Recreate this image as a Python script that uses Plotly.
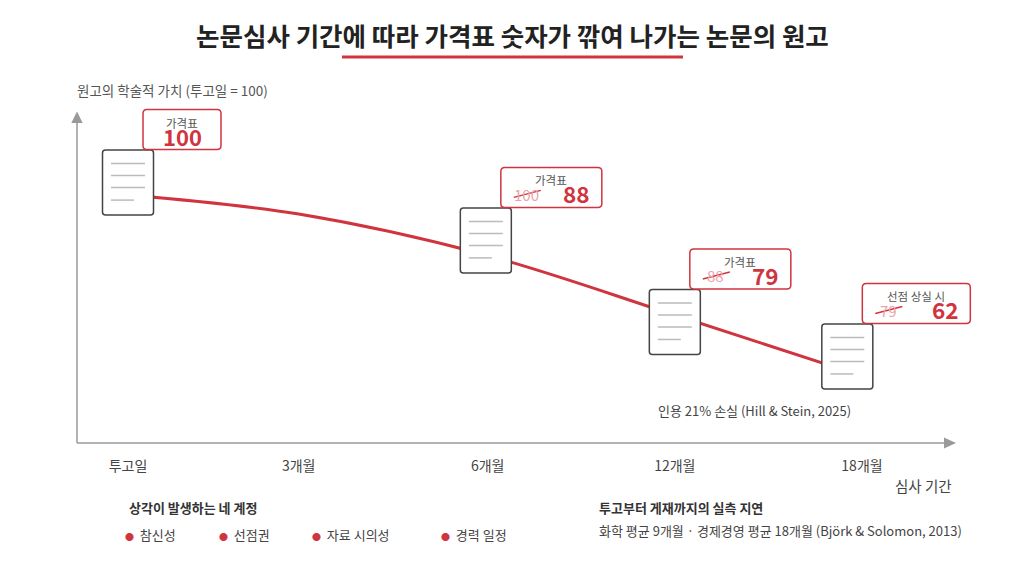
import plotly.graph_objects as go

# x 축 눈금 (심사 기간)
tick_labels = ['투고일', '3개월', '6개월', '12개월', '18개월']
tick_pos = [0, 0.93, 1.96, 2.98, 4]

# 원고의 학술적 가치 곡선 (투고일 = 100)
curve_x = [0, 0.93, 1.95, 2.98, 3.92]
curve_y = [100, 92.3, 75.8, 51.6, 29]

# 원고 아이콘 위치
doc_x = [0, 1.95, 2.98, 3.92]
doc_y = [105, 81.7, 48.8, 34.9]

# 가격표 내용
tag_titles = ['가격표', '가격표', '가격표', '선점 상실 시']
tag_old = [None, 100, 88, 79]
tag_new = [100, 88, 79, 62]
tag_width = [78, 101, 101, 108]

# 하단 설명
accounts = ['참신성', '선점권', '자료 시의성', '경력 일정']
account_x = [127, 221, 314, 443]
delay_title = '투고부터 게재까지의 실측 지연'
delay_text = '화학 평균 9개월 · 경제경영 평균 18개월 (Björk &amp; Solomon, 2013)'

RED = '#d0343f'
FONT = 'Noto Sans CJK KR'
W, H = 1024, 576


def px(x):
    return x / W


def py(y):
    return 1 - y / H


def rrect(hw, y0, y1, x0=None, r=3):
    # rounded rectangle path in pixel offsets
    if x0 is None:
        xa, xb = -hw, hw
    else:
        xa, xb = x0, x0 + hw
    return (f'M {xa + r},{y0} L {xb - r},{y0} Q {xb},{y0} {xb},{y0 + r} '
            f'L {xb},{y1 - r} Q {xb},{y1} {xb - r},{y1} L {xa + r},{y1} '
            f'Q {xa},{y1} {xa},{y1 - r} L {xa},{y0 + r} Q {xa},{y0} {xa + r},{y0} Z')


fig = go.Figure()

fig.add_trace(go.Scatter(x=curve_x, y=curve_y, mode='lines',
                         line=dict(color=RED, width=3, shape='spline', smoothing=1),
                         hoverinfo='skip', showlegend=False))

shapes = []
annotations = []

for i in range(len(doc_x)):
    anchor = dict(xref='x', yref='y', xsizemode='pixel', ysizemode='pixel',
                  xanchor=doc_x[i], yanchor=doc_y[i])
    # 원고 아이콘
    shapes.append(dict(type='path', path=rrect(25.5, -32.5, 32.5),
                       line=dict(color='#444444', width=1.5), fillcolor='white', **anchor))
    for ly, lx1 in [(19, 17), (7, 17), (-5, 17), (-17.5, 6)]:
        shapes.append(dict(type='line', x0=-17, x1=lx1, y0=ly, y1=ly,
                           line=dict(color='#bbbbbb', width=1.5), **anchor))
    # 가격표 박스
    w = tag_width[i]
    shapes.append(dict(type='path', path=rrect(w, 33, 73, x0=15, r=4),
                       line=dict(color=RED, width=1.5), fillcolor='white', **anchor))
    base = dict(x=doc_x[i], y=doc_y[i], xref='x', yref='y', showarrow=False)
    annotations.append(dict(text=tag_titles[i], xshift=15 + w / 2, yshift=60,
                            font=dict(family=FONT, size=11.5, color='#555555'), **base))
    if tag_old[i] is None:
        annotations.append(dict(text=f'<b>{tag_new[i]}</b>', xshift=15 + w / 2, yshift=47,
                                font=dict(family=FONT, size=22, color=RED), **base))
    else:
        annotations.append(dict(text=str(tag_old[i]), xshift=41, yshift=46,
                                font=dict(family=FONT, size=15, color='#eaa3ab'), **base))
        shapes.append(dict(type='line', x0=28, x1=55, y0=43, y1=50,
                           line=dict(color=RED, width=1.5), **anchor))
        annotations.append(dict(text=f'<b>{tag_new[i]}</b>', xshift=15 + w - 25, yshift=47,
                                font=dict(family=FONT, size=22.5, color=RED), **base))

# 축 (화살표)
axis_col = '#9a9a9a'
shapes += [
    dict(type='line', xref='paper', yref='paper', x0=px(77), x1=px(945), y0=py(443), y1=py(443),
         line=dict(color=axis_col, width=1.5)),
    dict(type='line', xref='paper', yref='paper', x0=px(77), x1=px(77), y0=py(443), y1=py(122),
         line=dict(color=axis_col, width=1.5)),
    dict(type='path', xref='paper', yref='paper',
         path=f'M {px(944)},{py(437.5)} L {px(956)},{py(443)} L {px(944)},{py(448.5)} Z',
         fillcolor=axis_col, line=dict(width=0)),
    dict(type='path', xref='paper', yref='paper',
         path=f'M {px(71.3)},{py(123)} L {px(77)},{py(111.5)} L {px(82.7)},{py(123)} Z',
         fillcolor=axis_col, line=dict(width=0)),
    # 제목 밑줄
    dict(type='line', xref='paper', yref='paper', x0=px(342), x1=px(683), y0=py(57), y1=py(57),
         line=dict(color=RED, width=3)),
]


def note(text, x, y, size, color='#444444', xanchor='left', bold=False):
    if bold:
        text = f'<b>{text}</b>'
    annotations.append(dict(text=text, x=px(x), y=py(y), xref='paper', yref='paper',
                            xanchor=xanchor, yanchor='middle', showarrow=False,
                            font=dict(family=FONT, size=size, color=color)))


note('논문심사 기간에 따라 가격표 숫자가 깎여 나가는 논문의 원고', 512, 35, 25.5,
     color='#222222', xanchor='center', bold=True)
note('원고의 학술적 가치 (투고일 = 100)', 75, 90, 13.5, color='#555555')
note('인용 21% 손실 (Hill &amp; Stein, 2025)', 754, 410, 13, xanchor='center')
note('심사 기간', 954, 485, 14.5, xanchor='right')
note('상각이 발생하는 네 계정', 127, 507, 13, color='#333333', bold=True)
for name, ax_ in zip(accounts, account_x):
    note(f'<span style="color:{RED};font-size:9px">●</span>  {name}', ax_ - 4, 534, 13)
note(delay_title, 597, 507, 13, color='#333333', bold=True)
note(delay_text, 597, 530, 13)

fig.update_layout(
    width=W, height=H,
    margin=dict(l=0, r=0, t=0, b=0),
    paper_bgcolor='white', plot_bgcolor='white',
    showlegend=False,
    font=dict(family=FONT, color='#444444'),
    # 플롯 영역 = 전체 그림; 축 위치는 anchor='free' 로 지정
    xaxis=dict(domain=[0, 1], range=[-128 / 183.5, 896 / 183.5],
               anchor='free', position=py(443),
               tickvals=tick_pos, ticktext=tick_labels,
               showgrid=False, zeroline=False, showline=False,
               ticks='outside', ticklen=10, tickcolor='rgba(0,0,0,0)',
               tickfont=dict(family=FONT, size=14, color='#444444')),
    yaxis=dict(domain=[0, 1], range=[-133 / 2.48, 443 / 2.48],
               showgrid=False, zeroline=False, showline=False, showticklabels=False),
    shapes=shapes,
    annotations=annotations,
)

fig.write_html('out.html', config={'displayModeBar': False},
               post_script="document.body.style.margin='0';")
